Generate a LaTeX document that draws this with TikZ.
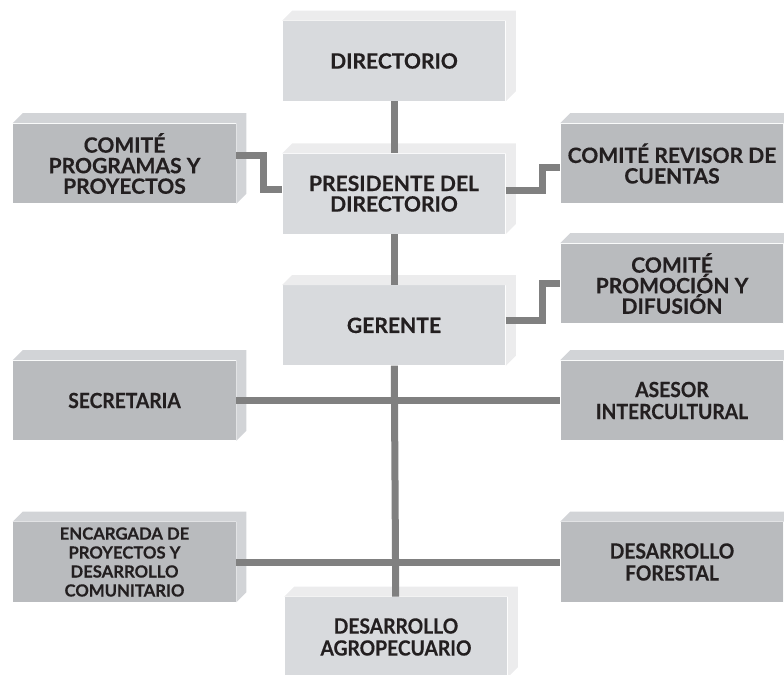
\documentclass[tikz,border=0pt]{standalone}
\usepackage{fontspec}
\newfontfamily\orgfont{Lato}[FakeBold=0.35]
\newfontfamily\orgcond{Lato}[FakeStretch=0.92, FakeBold=0.35]
\usetikzlibrary{positioning}

\definecolor{lightface}{RGB}{216,218,221}
\definecolor{lightside}{RGB}{236,236,237}
\definecolor{darkface}{RGB}{185,187,190}
\definecolor{darkside}{RGB}{210,212,215}
\definecolor{linkgray}{RGB}{128,128,128}
\definecolor{textgray}{RGB}{35,31,32}

\begin{document}
\begin{tikzpicture}[
    x=0.02cm, y=-0.02cm,
    box/.style={minimum width=4.46cm, minimum height=1.6cm, inner sep=2pt, align=center, text=textgray, font=\orgfont\bfseries\fontsize{12}{11.7}\selectfont},
    lightbox/.style={box, fill=lightface},
    darkbox/.style={box, fill=darkface},
    cond/.style={font=\orgcond\bfseries\fontsize{11.9}{12.5}\selectfont},
    small/.style={font=\orgfont\bfseries\fontsize{9.5}{10.8}\selectfont},
    link/.style={draw=linkgray, line width=0.14cm}
]
    \path[use as bounding box, clip] (0,0) rectangle (784,675);

    % Central column
    \node[lightbox] (dir) at (394,61) {DIRECTORIO};
    \node[lightbox, below=1.04cm of dir] (pres) {PRESIDENTE DEL\\DIRECTORIO};
    \node[lightbox, below=1.02cm of pres] (ger) {GERENTE};
    \node[lightbox, cond] (agro) at (396,637) {DESARROLLO\\AGROPECUARIO};

    % Committees
    \node[darkbox] (cprog) at (124.5,163.5) {COMITÉ\\PROGRAMAS Y\\PROYECTOS};
    \node[darkbox] (crev) at (672,163.5) {COMITÉ REVISOR DE\\CUENTAS};
    \node[darkbox] (cprom) at (672,283.5) {COMITÉ\\PROMOCIÓN Y\\DIFUSIÓN};

    % Staff
    \node[darkbox, cond] (sec) at (124.5,400.5) {SECRETARIA};
    \node[darkbox, cond] (ases) at (672,400.5) {ASESOR\\INTERCULTURAL};
    \node[darkbox, small] (enc) at (124.5,562) {ENCARGADA DE\\PROYECTOS Y\\DESARROLLO\\COMUNITARIO};
    \node[darkbox, cond] (dfor) at (672,562) {DESARROLLO\\FORESTAL};

    % Top and right faces
    \foreach \n/\s in {dir/lightside, pres/lightside, ger/lightside, agro/lightside,
                       cprog/darkside, crev/darkside, cprom/darkside, sec/darkside,
                       ases/darkside, enc/darkside, dfor/darkside}
        \fill[\s] (\n.north west) -- ++(10,-10) -- ([shift={(10,-10)}]\n.north east)
            -- ([shift={(10,-10)}]\n.south east) -- (\n.south east) -- (\n.north east) -- cycle;

    % Connectors
    \draw[link] (dir) -- (pres);
    \draw[link] (pres) -- (ger);
    \draw[link] (ger) -- (agro);
    \draw[link] (sec) -- (ases);
    \draw[link] (enc) -- (dfor);
    \draw[link] ([yshift=0.16cm]cprog.east) -- ++(27,0) |- ([yshift=0.08cm]pres.west);
    \draw[link] ([yshift=0.06cm]pres.east) -- ++(37,0) |- ([yshift=-0.08cm]crev.west);
    \draw[link] ([yshift=0.09cm]ger.east) -- ++(37,0) |- (cprom.west);
\end{tikzpicture}
\end{document}
